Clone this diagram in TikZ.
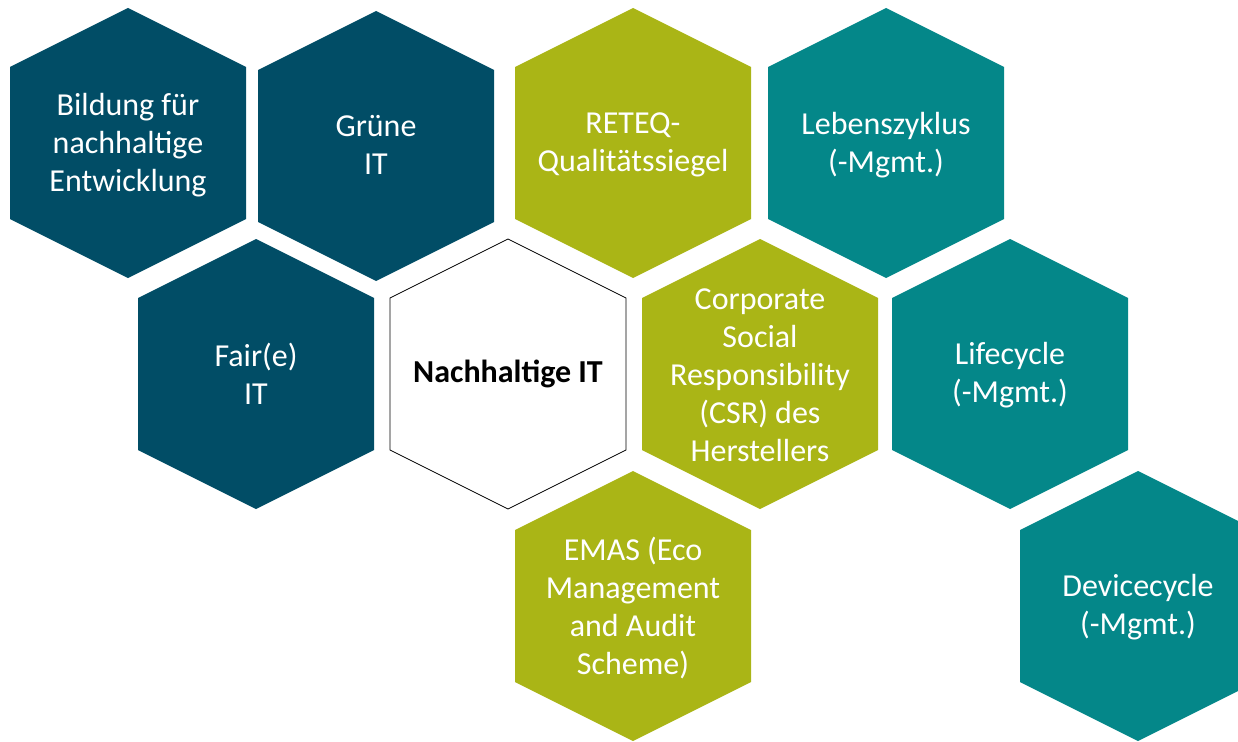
\documentclass[tikz,border=0pt]{standalone}
\usepackage{fontspec}
\setmainfont{Carlito}
\usepackage{tikz}

\definecolor{petrol}{RGB}{1,77,102}
\definecolor{olivegreen}{RGB}{170,181,22}
\definecolor{tealgreen}{RGB}{4,135,137}

% hexagon with pointy top, centre given in px
\newcommand{\hexcell}[2]{\fill[#1] #2 ++(0,-135) -- ++(118,59) -- ++(0,152) -- ++(-118,59) -- ++(-118,-59) -- ++(0,-152) -- cycle;}

\begin{document}
\begin{tikzpicture}[x=1pt,y=-1pt,
    hextext/.style={text=white,align=center,font=\fontsize{32}{38}\selectfont}]
    \clip (0,0) rectangle (1238,741);

    \hexcell{petrol}{(128,143)}
    \hexcell{petrol}{(376,146)}
    \hexcell{olivegreen}{(633,143)}
    \hexcell{tealgreen}{(886,143)}

    \hexcell{petrol}{(256,374)}
    \hexcell{draw=black,fill=white,line width=0.8pt}{(508,374)}
    \hexcell{olivegreen}{(760,374)}
    \hexcell{tealgreen}{(1010,374)}

    \hexcell{olivegreen}{(633,606)}
    \hexcell{tealgreen}{(1138,606)}

    \node[hextext] (bildung) at (128,145) {Bildung für\\nachhaltige\\Entwicklung};
    \node[hextext] (gruene) at (376,145) {Grüne\\IT};
    \node[hextext] (reteq) at (633,145) {RETEQ-\\Qualitätssiegel};
    \node[hextext] (lebenszyklus) at (886,145) {Lebenszyklus\\(-Mgmt.)};

    \node[hextext] (faire) at (256,374) {Fair(e)\\IT};
    \node[hextext,text=black,font=\fontsize{32}{38}\selectfont\bfseries] (nachhaltig) at (508,374) {Nachhaltige IT};
    \node[hextext] (csr) at (760,375) {Corporate\\Social\\Responsibility\\(CSR) des\\Herstellers};
    \node[hextext] (lifecycle) at (1010,375) {Lifecycle\\(-Mgmt.)};

    \node[hextext] (emas) at (633,608) {EMAS (Eco\\Management\\and Audit\\Scheme)};
    \node[hextext] (devicecycle) at (1138,607) {Devicecycle\\(-Mgmt.)};
\end{tikzpicture}
\end{document}
